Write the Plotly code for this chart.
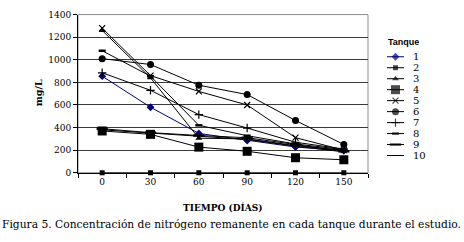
import plotly.graph_objects as go

days = [0, 30, 60, 90, 120, 150]
day_labels = ["0", "30", "60", "90", "120", "150"]
series_names = ["1", "2", "3", "4", "5", "6", "7", "8", "9", "10"]

t1 = [855, 580, 348, 285, 228, 195]
t2 = [0, 0, 0, 0, 0, 0]
t3 = [1260, 840, 306, 300, 240, 200]
t4 = [370, 340, 227, 190, 133, 115]
t5 = [1280, 860, 720, 600, 311, 200]
t6 = [1010, 958, 775, 692, 463, 250]
t7 = [885, 730, 515, 396, 270, 210]
t8 = [1080, 855, 420, 328, 255, 205]
t9 = [390, 355, 330, 310, 250, 190]
t10 = [380, 350, 320, 295, 235, 185]
values = [t1, t2, t3, t4, t5, t6, t7, t8, t9, t10]

styles = [
    dict(symbol="diamond", size=6, color="#000080", lc="#000080"),
    dict(symbol="square", size=5, color="black", lc="black"),
    dict(symbol="triangle-up", size=6, color="black", lc="black"),
    dict(symbol="square", size=9, color="black", lc="black"),
    dict(symbol="x-thin", size=6, color="black", lc="black"),
    dict(symbol="circle", size=7, color="black", lc="black"),
    dict(symbol="cross-thin", size=6, color="black", lc="black"),
    dict(symbol="line-ew", size=5, color="black", lc="black"),
    dict(symbol="line-ew", size=8, color="black", lc="black"),
    None,
]

W, H = 464, 242
px_l, px_r, px_t, px_b = 78, 368, 10, 175


def marker_line_width(sym):
    if sym == "line-ew":
        return 2.5
    if sym in ("x-thin", "cross-thin"):
        return 1.2
    return 0


fig = go.Figure()
for name, vals, st in zip(series_names, values, styles):
    if st is None:
        fig.add_trace(go.Scatter(x=days, y=vals, mode="lines", name=name,
                                 line=dict(color="black", width=1), cliponaxis=False))
    else:
        fig.add_trace(go.Scatter(
            x=days, y=vals, mode="lines+markers", name=name, cliponaxis=False,
            line=dict(color=st["lc"], width=1),
            marker=dict(symbol=st["symbol"], size=st["size"], color=st["color"],
                        line=dict(color=st["color"], width=marker_line_width(st["symbol"])))))

# custom legend on a small helper axis pair
for i, (name, st) in enumerate(zip(series_names, styles), start=1):
    if st is None:
        fig.add_trace(go.Scatter(x=[0, 1], y=[i, i], mode="lines", xaxis="x2", yaxis="y2",
                                 line=dict(color="black", width=1), showlegend=False, hoverinfo="skip"))
    else:
        fig.add_trace(go.Scatter(
            x=[0, 0.5, 1], y=[i, i, i], mode="lines+markers", xaxis="x2", yaxis="y2",
            showlegend=False, hoverinfo="skip", cliponaxis=False,
            line=dict(color=st["lc"], width=1),
            marker=dict(symbol=st["symbol"], size=[0, st["size"], 0], color=st["color"],
                        line=dict(color=st["color"], width=marker_line_width(st["symbol"])))))
    fig.add_annotation(x=411 / W, xref="paper", y=i, yref="y2", text=name, showarrow=False,
                       xanchor="left", yanchor="middle",
                       font=dict(family="DejaVu Serif", size=10, color="black"))

fig.add_annotation(x=386 / W, xref="paper", y=1 - 39 / H, yref="paper", text="<b>Tanque</b>",
                   showarrow=False, xanchor="left", yanchor="middle",
                   font=dict(family="Liberation Sans", size=9, color="black"))
fig.add_annotation(x=222 / W, xref="paper", y=1 - 211 / H, yref="paper", text="<b>TIEMPO (DÍAS)</b>",
                   showarrow=False, xanchor="center", yanchor="middle",
                   font=dict(family="DejaVu Serif", size=9, color="black"))
fig.add_annotation(x=38 / W, xref="paper", y=1 - 92 / H, yref="paper", text="<b>mg/L</b>",
                   showarrow=False, textangle=-90, xanchor="center", yanchor="middle",
                   font=dict(family="DejaVu Serif", size=9.5, color="black"))
fig.add_annotation(x=231 / W, xref="paper", y=1 - 229 / H, yref="paper",
                   text="Figura 5. Concentración de nitrógeno remanente en cada tanque durante el estudio.",
                   showarrow=False, xanchor="center", yanchor="middle",
                   font=dict(family="DejaVu Serif", size=10.7, color="black"))

fig.add_shape(type="rect", xref="x domain", yref="y domain", x0=0, x1=1, y0=0, y1=1,
              line=dict(color="#8c8c8c", width=1), layer="below")

fig.update_layout(
    width=W, height=H, margin=dict(l=0, r=0, t=0, b=0),
    paper_bgcolor="white", plot_bgcolor="white", showlegend=False,
    xaxis=dict(domain=[px_l / W, px_r / W], range=[-15, 165], tickvals=days, ticktext=day_labels,
               ticks="", showgrid=False, zeroline=False, showline=True, linecolor="black", linewidth=1,
               tickfont=dict(family="DejaVu Serif", size=9, color="black"),
               minor=dict(tickvals=[-15, 15, 45, 75, 105, 135, 165], ticks="outside", ticklen=4,
                          tickcolor="black", showgrid=False)),
    yaxis=dict(domain=[1 - px_b / H, 1 - px_t / H], range=[0, 1400], dtick=200, tick0=0,
               ticks="outside", ticklen=4, tickcolor="black", showgrid=True, gridcolor="#3a3a3a",
               gridwidth=1, zeroline=False, showline=True, linecolor="black", linewidth=1,
               tickfont=dict(family="DejaVu Serif", size=9, color="black")),
    xaxis2=dict(domain=[387 / W, 404 / W], range=[0, 1], visible=False, anchor="y2"),
    yaxis2=dict(domain=[1 - 162.74 / H, 1 - 48.26 / H], range=[10.5, 0.5], visible=False, anchor="x2"),
)

fig.write_html("out.html", config={"displayModeBar": False},
               post_script="document.body.style.margin='0';document.body.style.overflow='hidden';")
